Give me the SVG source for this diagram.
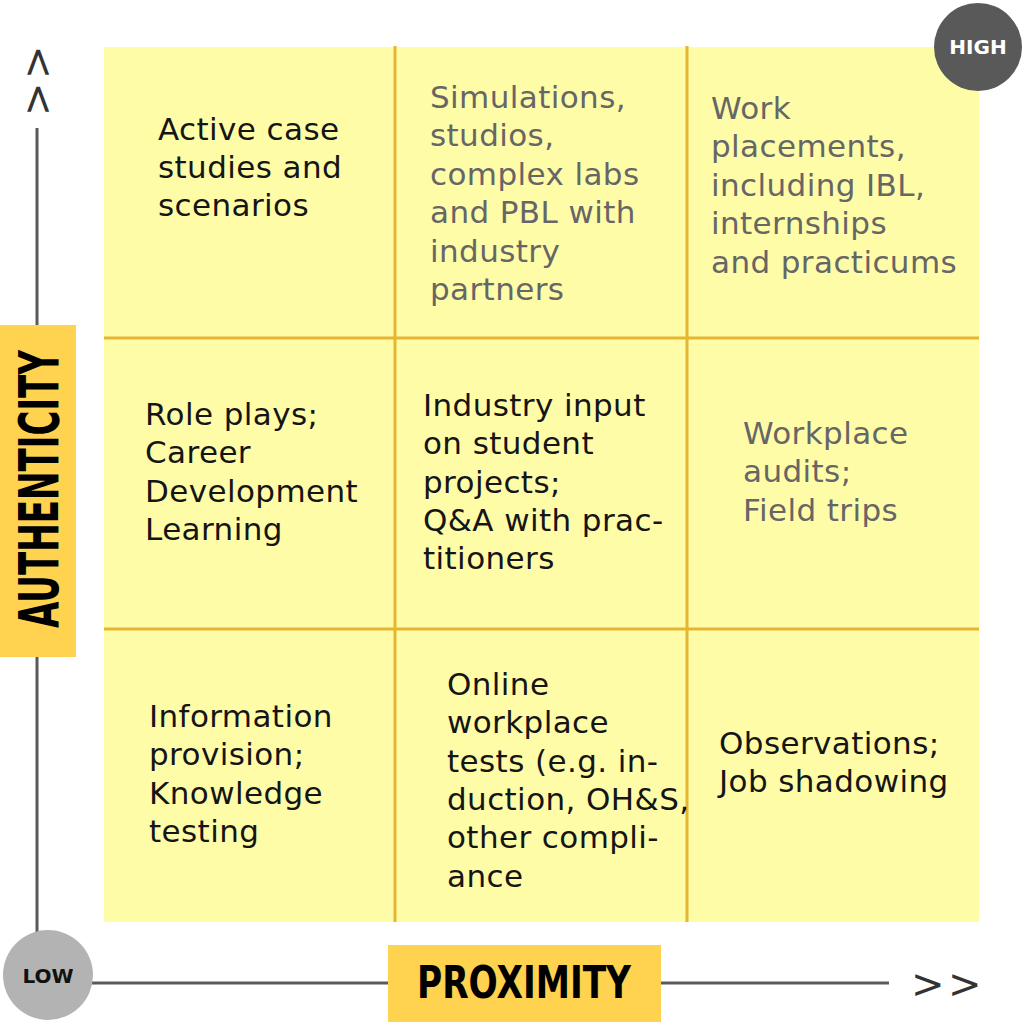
<svg xmlns="http://www.w3.org/2000/svg" width="1025" height="1022" viewBox="0 0 1025 1022">
<style>
.cell{fill:#fffca8;}
.grid{stroke:#e6b632;stroke-width:3;fill:none;}
.axis{stroke:#5a5a5a;stroke-width:3;fill:none;}
.t{font-family:"DejaVu Sans",Verdana,sans-serif;font-size:31px;letter-spacing:0.4px;}
.dk{fill:#151515;}
.gr{fill:#666666;}
.lbl{fill:#ffd24f;}
.big{font-family:"DejaVu Sans Condensed","Liberation Sans Narrow","Liberation Sans",sans-serif;font-weight:bold;fill:#000;}
.chev{font-family:"DejaVu Sans",sans-serif;font-size:40px;letter-spacing:3.5px;fill:#333;}
.circ{font-family:"DejaVu Sans",Verdana,sans-serif;font-weight:bold;font-size:20px;text-anchor:middle;}
</style>
<rect x="0" y="0" width="1025" height="1022" fill="#ffffff"/>
<g id="connectors">
<line class="axis" x1="37" y1="128" x2="37" y2="932"/>
<line class="axis" x1="92" y1="983" x2="889" y2="983"/>
<text class="chev" transform="translate(51,116) rotate(-90)">&gt;&gt;</text>
<text class="chev" x="911" y="997.5">&gt;&gt;</text>
</g>
<g id="grid">
<rect class="cell" x="104" y="47" width="875" height="875"/>
<line class="grid" x1="395" y1="46" x2="395" y2="922"/>
<line class="grid" x1="687" y1="46" x2="687" y2="922"/>
<line class="grid" x1="104" y1="338" x2="979" y2="338"/>
<line class="grid" x1="104" y1="629" x2="979" y2="629"/>
</g>
<g id="high">
<circle cx="978" cy="47" r="44" fill="#595959"/>
<text class="circ" x="978" y="54" fill="#ffffff">HIGH</text>
</g>
<g id="low">
<circle cx="48" cy="975" r="45" fill="#b3b3b3"/>
<text class="circ" x="48" y="983" fill="#111111">LOW</text>
</g>
<g id="authenticity">
<rect class="lbl" x="0" y="325" width="76" height="332"/>
<text class="big" font-size="55" transform="translate(58,628) rotate(-90)" textLength="278" lengthAdjust="spacingAndGlyphs">AUTHENTICITY</text>
</g>
<g id="proximity">
<rect class="lbl" x="388" y="945" width="273" height="77"/>
<text class="big" font-size="44" x="417" y="998" textLength="214" lengthAdjust="spacingAndGlyphs">PROXIMITY</text>
</g>
<g id="cell-1">
<text class="t dk" x="158" y="140">Active case</text>
<text class="t dk" x="158" y="178">studies and</text>
<text class="t dk" x="158" y="216">scenarios</text>
</g>
<g id="cell-2">
<text class="t gr" x="430" y="108">Simulations,</text>
<text class="t gr" x="430" y="146">studios,</text>
<text class="t gr" x="430" y="185">complex labs</text>
<text class="t gr" x="430" y="223">and PBL with</text>
<text class="t gr" x="430" y="262">industry</text>
<text class="t gr" x="430" y="300">partners</text>
</g>
<g id="cell-3">
<text class="t gr" x="711" y="119">Work</text>
<text class="t gr" x="711" y="157">placements,</text>
<text class="t gr" x="711" y="196">including IBL,</text>
<text class="t gr" x="711" y="234">internships</text>
<text class="t gr" x="711" y="273">and practicums</text>
</g>
<g id="cell-4">
<text class="t dk" x="145" y="425">Role plays;</text>
<text class="t dk" x="145" y="463">Career</text>
<text class="t dk" x="145" y="502">Development</text>
<text class="t dk" x="145" y="540">Learning</text>
</g>
<g id="cell-5">
<text class="t dk" x="423" y="416">Industry input</text>
<text class="t dk" x="423" y="454">on student</text>
<text class="t dk" x="423" y="493">projects;</text>
<text class="t dk" x="423" y="531">Q&amp;A with prac-</text>
<text class="t dk" x="423" y="569">titioners</text>
</g>
<g id="cell-6">
<text class="t gr" x="743" y="444">Workplace</text>
<text class="t gr" x="743" y="482">audits;</text>
<text class="t gr" x="743" y="521">Field trips</text>
</g>
<g id="cell-7">
<text class="t dk" x="149" y="727">Information</text>
<text class="t dk" x="149" y="765">provision;</text>
<text class="t dk" x="149" y="804">Knowledge</text>
<text class="t dk" x="149" y="842">testing</text>
</g>
<g id="cell-8">
<text class="t dk" x="447" y="695">Online</text>
<text class="t dk" x="447" y="733">workplace</text>
<text class="t dk" x="447" y="772">tests (e.g. in-</text>
<text class="t dk" x="447" y="810">duction, OH&amp;S,</text>
<text class="t dk" x="447" y="848">other compli-</text>
<text class="t dk" x="447" y="887">ance</text>
</g>
<g id="cell-9">
<text class="t dk" x="719" y="754">Observations;</text>
<text class="t dk" x="719" y="792">Job shadowing</text>
</g>
</svg>
